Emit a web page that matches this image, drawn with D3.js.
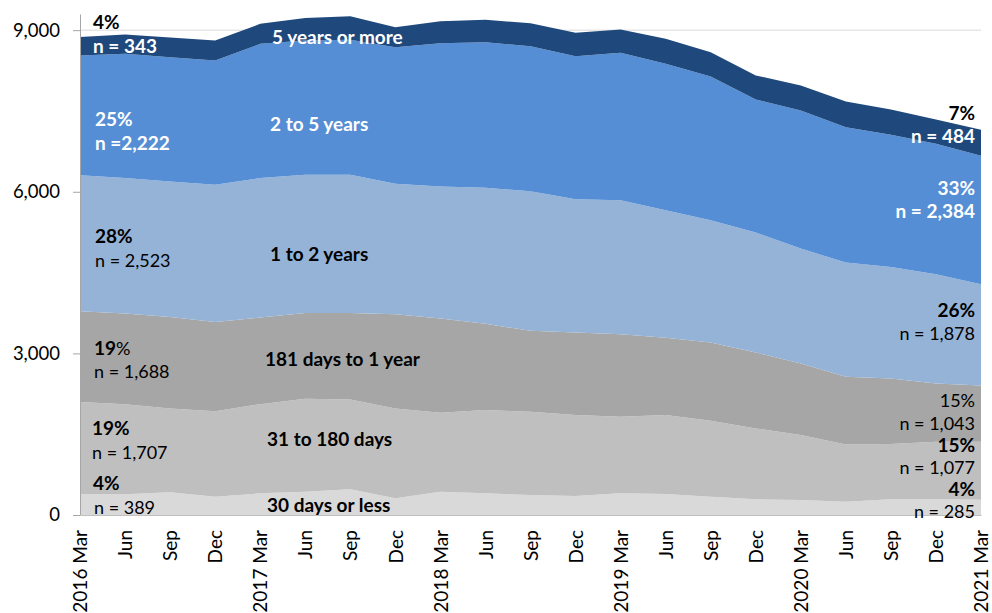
<!DOCTYPE html>
<html>
<head>
<meta charset="utf-8">
<script src="https://cdn.jsdelivr.net/npm/d3@7"></script>
<style>
  html, body { margin: 0; padding: 0; background: #fff; }
  svg { display: block; font-family: Lato, "Open Sans", sans-serif; }
</style>
</head>
<body>
<svg id="chart" width="992" height="613"></svg>
<script>
// ---- Data ----
const quarterLabels = ["2016 Mar","Jun","Sep","Dec","2017 Mar","Jun","Sep","Dec","2018 Mar","Jun","Sep","Dec","2019 Mar","Jun","Sep","Dec","2020 Mar","Jun","Sep","Dec","2021 Mar"];
const seriesNames = ["30 days or less","31 to 180 days","181 days to 1 year","1 to 2 years","2 to 5 years","5 years or more"];
const days30OrLess   = [389,384,421,340,402,432,476,310,432,402,371,352,402,389,340,291,278,247,291,291,285];
const days31To180    = [1707,1674,1557,1588,1656,1725,1669,1668,1465,1545,1545,1502,1421,1465,1409,1317,1205,1064,1026,1068,1077];
const days181To1Year = [1688,1682,1699,1656,1607,1594,1606,1749,1750,1601,1502,1533,1533,1434,1453,1409,1330,1254,1218,1083,1043];
const years1To2      = [2523,2515,2516,2547,2590,2566,2566,2423,2453,2528,2590,2472,2485,2367,2268,2225,2132,2121,2069,2027,1878];
const years2To5      = [2222,2305,2305,2306,2491,2491,2503,2534,2658,2701,2694,2658,2738,2721,2670,2472,2565,2514,2455,2423,2384];
const years5OrMore   = [343,359,365,371,371,420,438,371,408,417,426,433,433,463,451,445,463,477,469,451,484];
const yTickValues = [0, 3000, 6000, 9000];

// ---- Build table ----
const seriesValues = [days30OrLess, days31To180, days181To1Year, years1To2, years2To5, years5OrMore];
const table = quarterLabels.map((q, i) => {
  const row = { idx: i };
  seriesNames.forEach((s, k) => row[s] = seriesValues[k][i]);
  return row;
});
const colors = ["#d9d9d9", "#bfbfbf", "#a6a6a6", "#95b3d7", "#558ed5", "#1f497d"];

const svg = d3.select("#chart");
const x = d3.scalePoint().domain(d3.range(quarterLabels.length)).range([80, 981]);
const y = d3.scaleLinear().domain([0, 9300]).range([515, 14]);

// gridlines
svg.append("g").selectAll("line").data(yTickValues.filter(v => v > 0)).join("line")
  .attr("x1", 80).attr("x2", 981)
  .attr("y1", d => y(d)).attr("y2", d => y(d))
  .attr("stroke", "#d9d9d9").attr("stroke-width", 1);

const stack = d3.stack().keys(seriesNames);
const layers = stack(table);
const area = d3.area()
  .x(d => x(d.data.idx))
  .y0(d => y(d[0]))
  .y1(d => y(d[1]));

svg.append("g").selectAll("path").data(layers).join("path")
  .attr("d", area)
  .attr("fill", (d, i) => colors[i]);

// y axis
const yAxis = d3.axisLeft(y).tickValues(yTickValues).tickSize(7).tickSizeOuter(0).tickPadding(13)
  .tickFormat(d3.format(","));
const gy = svg.append("g").attr("transform", "translate(80,0)").call(yAxis);
gy.select(".domain").attr("stroke", "#a6a6a6");
gy.selectAll(".tick line").attr("stroke", "#a6a6a6");
gy.selectAll(".tick text").attr("font-size", 18.5).attr("fill", "#000").attr("font-family", "Lato, sans-serif");

// x axis
const xAxis = d3.axisBottom(x).tickSize(0).tickSizeOuter(0).tickFormat(i => quarterLabels[i]);
const gx = svg.append("g").attr("transform", "translate(0,515)").call(xAxis);
gx.select(".domain").attr("stroke", "#bfbfbf");
gx.selectAll(".tick text")
  .attr("font-size", 19).attr("fill", "#000").attr("font-family", "Lato, sans-serif")
  .attr("text-anchor", "end")
  .attr("transform", "rotate(-90)")
  .attr("x", -15).attr("y", 0).attr("dy", "0.35em");

// annotations
const ann = svg.append("g");
function label(xp, yp, parts, fill, anchor) {
  const t = ann.append("text").attr("x", xp).attr("y", yp).attr("fill", fill)
    .attr("text-anchor", anchor || "start");
  parts.forEach(p => t.append("tspan")
    .attr("font-weight", p[1] ? "bold" : "normal")
    .attr("font-size", p[1] ? 19 : 18)
    .text(p[0]));
}
// left column
label(93, 29, [["4%", 1]], "#000");
label(93, 53, [["n = 343", 1]], "#fff");
label(95, 126, [["25%", 1]], "#fff");
label(95, 150, [["n =2,222", 1]], "#fff");
label(95, 243, [["28%", 1]], "#000");
label(95, 267, [["n = 2,523", 0]], "#000");
label(94, 355, [["19", 1], ["%", 0]], "#000");
label(94, 378, [["n = 1,688", 0]], "#000");
label(92, 435, [["19%", 1]], "#000");
label(92, 459, [["n = 1,707", 0]], "#000");
label(93, 490, [["4%", 1]], "#000");
label(94, 514, [["n = 389", 0]], "#000");
// series names
label(272, 44, [["5 years or more", 1]], "#fff");
label(270, 131, [["2 to 5 years", 1]], "#fff");
label(270, 261, [["1 to 2 years", 1]], "#000");
label(265, 366, [["181 days to 1 year", 1]], "#000");
label(267, 446, [["31 to 180 days", 1]], "#000");
label(267, 512, [["30 days or less", 1]], "#000");
// right column
label(975, 120, [["7%", 1]], "#000", "end");
label(975, 143, [["n = 484", 1]], "#fff", "end");
label(975, 195, [["33%", 1]], "#fff", "end");
label(975, 218, [["n = 2,384", 1]], "#fff", "end");
label(975, 317, [["26%", 1]], "#000", "end");
label(975, 340, [["n = 1,878", 0]], "#000", "end");
label(975, 407, [["15%", 0]], "#000", "end");
label(975, 430, [["n = 1,043", 0]], "#000", "end");
label(975, 452, [["15%", 1]], "#000", "end");
label(975, 474, [["n = 1,077", 0]], "#000", "end");
label(975, 496, [["4%", 1]], "#000", "end");
label(975, 518, [["n = 285", 0]], "#000", "end");
</script>
</body>
</html>
